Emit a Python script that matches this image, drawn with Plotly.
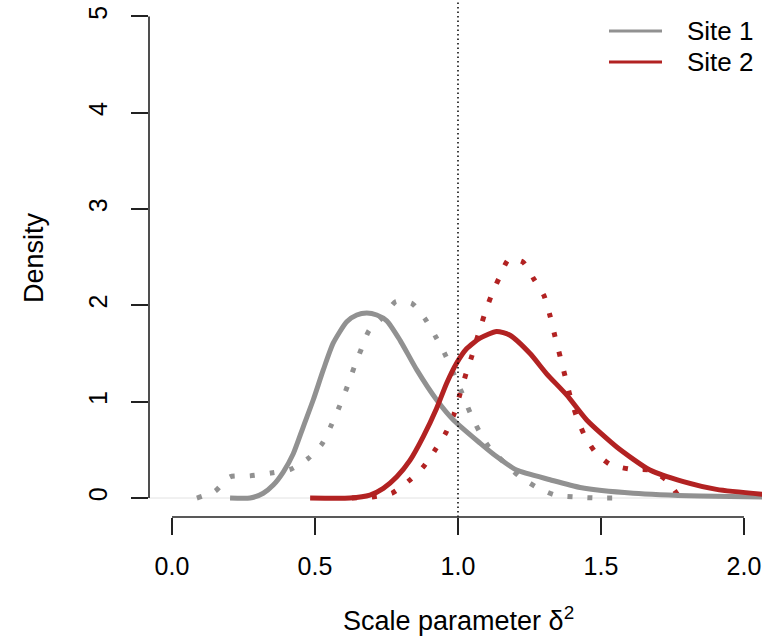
import plotly.graph_objects as go

# Posterior (solid) and prior-like (dotted) densities of the scale parameter
site1_x = [0.203, 0.273, 0.319, 0.354, 0.389, 0.424, 0.459, 0.494, 0.529, 0.564,
           0.611, 0.646, 0.681, 0.716, 0.751, 0.797, 0.856, 0.925, 0.984, 1.077,
           1.135, 1.205, 1.322, 1.427, 1.613, 1.846, 2.063, 2.2]
site1_y = [0.0, 0.0, 0.05, 0.135, 0.27, 0.46, 0.74, 1.02, 1.33, 1.61,
           1.83, 1.90, 1.92, 1.90, 1.84, 1.64, 1.33, 1.02, 0.81, 0.57,
           0.43, 0.29, 0.19, 0.11, 0.05, 0.02, 0.01, 0.0]

site1_dot_x = [0.087, 0.150, 0.203, 0.273, 0.346, 0.416, 0.476, 0.524, 0.556, 0.584,
               0.612, 0.636, 0.661, 0.689, 0.738, 0.783, 0.839, 0.885, 0.923, 0.955,
               1.014, 1.042, 1.073, 1.108, 1.213, 1.276, 1.339, 1.413, 1.486, 1.556]
site1_dot_y = [0.0, 0.07, 0.22, 0.23, 0.26, 0.30, 0.41, 0.56, 0.75, 0.94,
               1.15, 1.35, 1.54, 1.74, 1.88, 2.04, 2.02, 1.86, 1.67, 1.49,
               1.09, 0.89, 0.70, 0.53, 0.23, 0.11, 0.03, 0.01, 0.0, 0.0]

site2_x = [0.483, 0.622, 0.692, 0.739, 0.786, 0.832, 0.879, 0.925, 0.960, 0.995,
           1.030, 1.077, 1.135, 1.182, 1.252, 1.310, 1.380, 1.450, 1.555, 1.671,
           1.788, 1.904, 2.063, 2.2]
site2_y = [0.0, 0.0, 0.03, 0.10, 0.22, 0.39, 0.64, 0.93, 1.19, 1.40,
           1.55, 1.66, 1.73, 1.69, 1.50, 1.29, 1.07, 0.81, 0.53, 0.29,
           0.17, 0.09, 0.04, 0.01]

site2_dot_x = [0.629, 0.699, 0.769, 0.829, 0.878, 0.920, 0.958, 0.986, 1.007, 1.028,
               1.049, 1.070, 1.091, 1.115, 1.143, 1.178, 1.227, 1.266, 1.301, 1.322,
               1.339, 1.357, 1.374, 1.392, 1.413, 1.441, 1.479, 1.531, 1.601, 1.671,
               1.731, 1.773]
site2_dot_y = [0.0, 0.01, 0.05, 0.18, 0.32, 0.50, 0.68, 0.87, 1.08, 1.29,
               1.48, 1.69, 1.89, 2.09, 2.28, 2.48, 2.45, 2.27, 2.10, 1.89,
               1.68, 1.47, 1.27, 1.06, 0.86, 0.66, 0.48, 0.35, 0.30, 0.29,
               0.18, 0.01]

x_ticks = [0.0, 0.5, 1.0, 1.5, 2.0]
x_tick_labels = ["0.0", "0.5", "1.0", "1.5", "2.0"]
y_ticks = [0, 1, 2, 3, 4, 5]
y_tick_labels = ["0", "1", "2", "3", "4", "5"]
series_names = ["Site 1", "Site 2"]

GRAY = "#919191"
RED = "#B22222"
AXIS = "#222222"
FONT = "Liberation Sans, Arial, sans-serif"
FS_TICK = 25
FS_TITLE = 27
FS_LEGEND = 26

W, H = 762, 642
L, R, T, B = 149, 0, 0, 125
x_range = [-0.0804, 2.063]
y_range = [-0.197, 5.171]
plot_w, plot_h = W - L - R, H - T - B


def px_x(px):
    return (px - L) / plot_w


def px_y(py):
    return (plot_h - py) / plot_h


fig = go.Figure()

dotted = dict(width=5, dash="5px,15px", shape="spline", smoothing=0.6)
solid = dict(width=5, shape="spline", smoothing=0.6)

fig.add_trace(go.Scatter(x=site1_dot_x, y=site1_dot_y, mode="lines",
                         line=dict(color=GRAY, **dotted), showlegend=False, hoverinfo="skip"))
fig.add_trace(go.Scatter(x=site2_dot_x, y=site2_dot_y, mode="lines",
                         line=dict(color=RED, **dotted), showlegend=False, hoverinfo="skip"))
fig.add_trace(go.Scatter(x=site1_x, y=site1_y, mode="lines", name=series_names[0],
                         line=dict(color=GRAY, **solid), showlegend=False))
fig.add_trace(go.Scatter(x=site2_x, y=site2_y, mode="lines", name=series_names[1],
                         line=dict(color=RED, **solid), showlegend=False))

shapes = [
    # zero reference line
    dict(type="line", xref="paper", yref="y", x0=0, x1=1, y0=0, y1=0,
         line=dict(color="#e2e2e2", width=1), layer="below"),
    # vertical reference at 1
    dict(type="line", xref="x", yref="paper", x0=1, x1=1, y0=0, y1=1,
         line=dict(color="black", width=1.5, dash="1.5px,3px")),
    # axis lines spanning the tick range only
    dict(type="line", xref="paper", yref="y", x0=0, x1=0, y0=0, y1=5,
         line=dict(color=AXIS, width=1.6)),
    dict(type="line", xref="x", yref="paper", x0=0, x1=2, y0=0, y1=0,
         line=dict(color=AXIS, width=1.6)),
]

annotations = [
    dict(text="Density", xref="paper", yref="paper",
         x=px_x(34), y=px_y(258),
         xanchor="center", yanchor="middle", textangle=-90, showarrow=False,
         font=dict(family=FONT, size=FS_TITLE, color="black")),
    dict(text="Scale parameter δ<sup>2</sup>", xref="paper", yref="paper",
         x=px_x(458), y=px_y(619),
         xanchor="center", yanchor="middle", showarrow=False,
         font=dict(family=FONT, size=FS_TITLE, color="black")),
]

# legend: short line samples followed by labels
for name, color, py in zip(series_names, [GRAY, RED], [31, 62]):
    shapes.append(dict(type="line", xref="paper", yref="paper",
                       x0=px_x(609), x1=px_x(662), y0=px_y(py), y1=px_y(py),
                       line=dict(color=color, width=3)))
    annotations.append(dict(text=name, xref="paper", yref="paper",
                            x=px_x(685), y=px_y(py), xanchor="left", yanchor="middle",
                            showarrow=False, font=dict(family=FONT, size=FS_LEGEND, color="black")))

fig.update_layout(
    width=W, height=H,
    margin=dict(l=L, r=R, t=T, b=B, pad=0),
    plot_bgcolor="white", paper_bgcolor="white",
    shapes=shapes, annotations=annotations,
    xaxis=dict(range=x_range, tickvals=x_ticks, ticktext=x_tick_labels,
               showgrid=False, zeroline=False, showline=False,
               ticks="outside", ticklen=17, tickwidth=1.6, tickcolor=AXIS,
               ticklabelstandoff=10, ticklabeloverflow="allow",
               tickfont=dict(family=FONT, size=FS_TICK, color="black")),
    yaxis=dict(range=y_range, tickvals=y_ticks, ticktext=y_tick_labels,
               showgrid=False, zeroline=False, showline=False,
               ticks="outside", ticklen=17, tickwidth=1.6, tickcolor=AXIS,
               tickangle=-90, ticklabelstandoff=14, ticklabeloverflow="allow",
               tickfont=dict(family=FONT, size=FS_TICK, color="black")),
)

fig.write_html("out.html", config={"displayModeBar": False})
